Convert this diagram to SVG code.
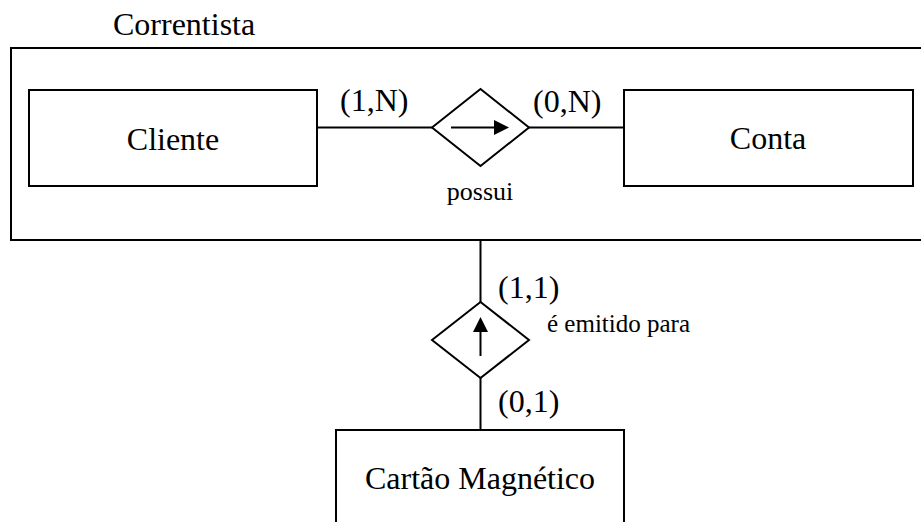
<svg xmlns="http://www.w3.org/2000/svg" width="921" height="522" viewBox="0 0 921 522">
<style>
.box{fill:none;stroke:#000;stroke-width:2}
.ln{fill:none;stroke:#000;stroke-width:2}
text{font-family:'Liberation Serif','Times New Roman',Times,serif;fill:#000}
.big{font-size:32px}
.sm{font-size:25px}
.sm2{font-size:26px}
</style>
<g id="correntista">
<path class="box" d="M925,48 H11 V240 H925"/>
<text class="big" x="113" y="35">Correntista</text>
</g>
<g id="cliente">
<rect class="box" x="29" y="90" width="288" height="96"/>
<text class="big" x="173" y="150" text-anchor="middle">Cliente</text>
</g>
<g id="conta">
<rect class="box" x="624" y="90" width="289" height="96"/>
<text class="big" x="768" y="149" text-anchor="middle">Conta</text>
</g>
<g id="possui">
<polygon class="box" points="432,127.5 480.5,89 529,127.5 480.5,166"/>
<line class="ln" x1="451" y1="127.5" x2="494" y2="127.5"/>
<polygon points="494,120 509,127.5 494,135" fill="#000"/>
<text class="sm2" x="480" y="200" text-anchor="middle">possui</text>
</g>
<g id="emitido">
<polygon class="box" points="432,340 480.5,302 529,340 480.5,378"/>
<line class="ln" x1="480.5" y1="356" x2="480.5" y2="332"/>
<polygon points="473,332 480.5,317 488,332" fill="#000"/>
<text class="sm" x="547" y="332">é emitido para</text>
</g>
<g id="cartao">
<path class="box" d="M336,530 V430 H624 V530"/>
<text class="big" x="480" y="489" text-anchor="middle">Cartão Magnético</text>
</g>
<g id="connectors">
<line class="ln" x1="317" y1="127.5" x2="432" y2="127.5"/>
<line class="ln" x1="529" y1="127.5" x2="624" y2="127.5"/>
<line class="ln" x1="480.5" y1="240" x2="480.5" y2="302"/>
<line class="ln" x1="480.5" y1="378" x2="480.5" y2="430"/>
<text class="big" x="340" y="111">(1,N)</text>
<text class="big" x="533" y="112">(0,N)</text>
<text class="big" x="498" y="298">(1,1)</text>
<text class="big" x="498" y="412">(0,1)</text>
</g>
</svg>
